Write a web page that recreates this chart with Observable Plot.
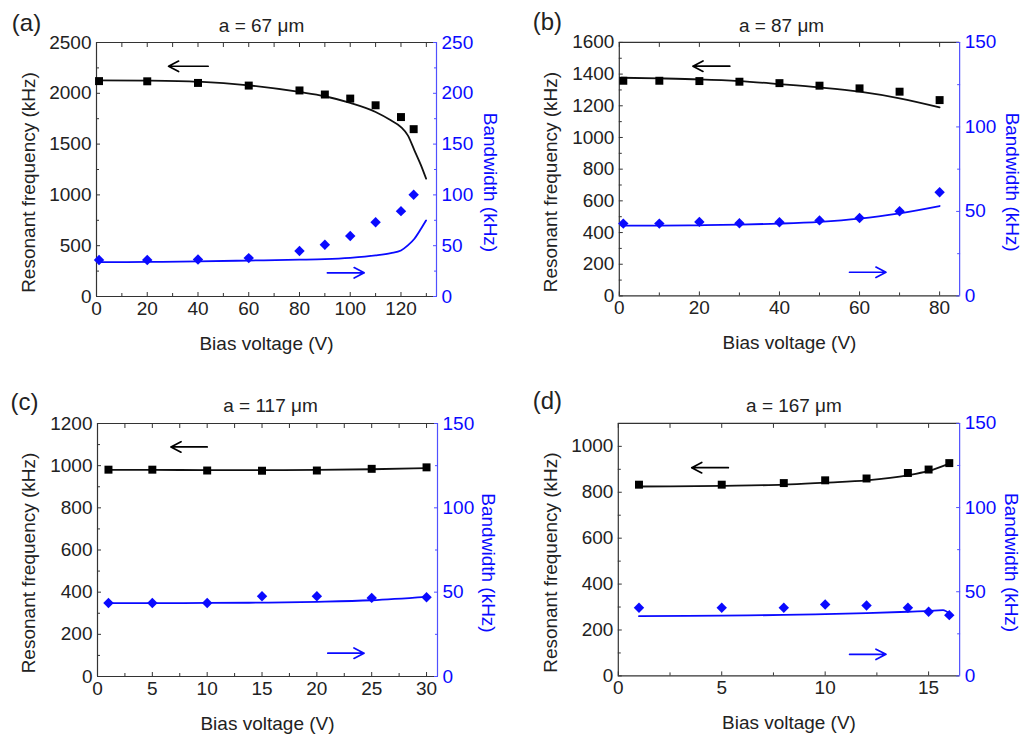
<!DOCTYPE html>
<html><head><meta charset="utf-8">
<script src="https://cdn.jsdelivr.net/npm/d3@7"></script>
<script src="https://cdn.jsdelivr.net/npm/@observablehq/plot@0.6"></script>
<style>
body{margin:0;background:#fff;}
#wrap{position:relative;width:1029px;height:740px;overflow:hidden;}
.panel{position:absolute;}
</style></head><body><div id="wrap"></div>
<script>
// ---------- Panel (a): a = 67 μm ----------
const voltA = [1, 20, 40, 60, 80, 90, 100, 110, 120, 125];
const freqA = [2120, 2118, 2102, 2076, 2028, 1988, 1948, 1882, 1766, 1647];
const bwA = [36, 36, 36.5, 37.8, 44.8, 51, 59.6, 73, 84, 100.2];
const fitVoltA = [0.5, 20, 40, 60, 80, 90, 100, 110, 116, 120, 122.7, 125.3, 127.9, 129.9];
const fitFreqA = [2128, 2125, 2114, 2078, 2013, 1971, 1905, 1816, 1734, 1668, 1586, 1439, 1291, 1160];
const fitBwA = [33.8, 34, 34.5, 35.4, 36.2, 36.8, 38.1, 40.4, 42.7, 45.3, 50.3, 56.9, 66.7, 74.9];
const arrowFreqA = [44, 28.4, 2266];   // x from, x to, y (kHz)
const arrowBwA = [91, 105.5, 23.3];

// ---------- Panel (b): a = 87 μm ----------
const voltB = [1, 10, 20, 30, 40, 50, 60, 70, 80];
const freqB = [1358, 1358, 1356, 1352, 1343, 1327, 1310, 1289, 1236];
const bwB = [42.8, 42.8, 43.8, 43.0, 43.6, 44.7, 46.1, 50.1, 61.3];
const fitVoltB = [0.5, 10, 20, 30, 40, 50, 60, 70, 80];
const fitFreqB = [1377, 1373, 1367, 1356, 1337, 1316, 1289, 1247, 1190];
const fitBwB = [41.6, 41.6, 41.8, 42.2, 42.8, 43.8, 45.7, 48.9, 53.2];
const arrowFreqB = [27.6, 18.4, 1450];
const arrowBwB = [57.5, 66.6, 14];

// ---------- Panel (c): a = 117 μm ----------
const voltC = [1, 5, 10, 15, 20, 25, 30];
const freqC = [981, 981, 977, 976, 977, 985, 992];
const bwC = [43.6, 43.6, 43.6, 47.6, 47.6, 46.6, 47.0];
const fitVoltC = [1, 5, 10, 15, 20, 25, 30];
const fitFreqC = [980, 980, 979, 979, 980, 983, 988];
const fitBwC = [43.5, 43.5, 43.6, 43.8, 44.3, 45.2, 47.2];
const arrowFreqC = [10.0, 6.7, 1089];
const arrowBwC = [21.0, 24.3, 13.8];

// ---------- Panel (d): a = 167 μm ----------
const voltD = [1, 5, 8, 10, 12, 14, 15, 16];
const freqD = [833, 833, 840, 852, 860, 884, 899, 927];
const bwD = [40.5, 40.5, 40.5, 42.4, 41.8, 40.5, 38.1, 36.1];
const fitVoltD = [1, 5, 8, 10, 12, 14, 15, 16];
const fitFreqD = [825, 828, 833, 842, 852, 874, 893, 925];
const fitVoltBwD = [1, 5, 8, 10, 12, 14, 15, 15.7, 16];
const fitBwD = [35.5, 35.8, 36.2, 36.7, 37.3, 38.1, 38.6, 39.1, 37];
const arrowFreqD = [5.32, 3.55, 907];
const arrowBwD = [11.18, 12.94, 12.8];

// ---------- Axes ----------
const panelLabels = ["(a)", "(b)", "(c)", "(d)"];
const panelTitles = ["a = 67 μm", "a = 87 μm", "a = 117 μm", "a = 167 μm"];
const xLabel = "Bias voltage (V)";
const yLabel = "Resonant frequency (kHz)";
const y2Label = "Bandwidth (kHz)";

const xDomains = [[0, 134], [0, 85], [0, 31], [0, 16.5]];
const xMajor = [[0, 20, 40, 60, 80, 100, 120], [0, 20, 40, 60, 80], [0, 5, 10, 15, 20, 25, 30], [0, 5, 10, 15]];
const xMinor = [[10, 30, 50, 70, 90, 110, 130], [10, 30, 50, 70], [2.5, 7.5, 12.5, 17.5, 22.5, 27.5], [2.5, 7.5, 12.5]];
const yDomains = [[0, 2500], [0, 1600], [0, 1200], [0, 1100]];
const yMajor = [[0, 500, 1000, 1500, 2000, 2500], [0, 200, 400, 600, 800, 1000, 1200, 1400, 1600],
  [0, 200, 400, 600, 800, 1000, 1200], [0, 200, 400, 600, 800, 1000]];
const yMinor = [[250, 750, 1250, 1750, 2250], [100, 300, 500, 700, 900, 1100, 1300, 1500],
  [100, 300, 500, 700, 900, 1100], [100, 300, 500, 700, 900]];
const y2Max = [250, 150, 150, 150];
const y2Major = [[0, 50, 100, 150, 200, 250], [0, 50, 100, 150], [0, 50, 100, 150], [0, 50, 100, 150]];
const y2Minor = [[25, 75, 125, 175, 225], [25, 75, 125], [25, 75, 125], [25, 75, 125]];

const panels = [
  {volt: voltA, freq: freqA, bw: bwA, fv: fitVoltA, ff: fitFreqA, fbv: fitVoltA, fb: fitBwA, af: arrowFreqA, ab: arrowBwA,
   pos: [0, 0], m: [42, 79, 74, 96], off: {yt: -68, y2t: 54, xt: 47, tdx: -5, tdy: -17, ldx: -70, ldy: -19}},
  {volt: voltB, freq: freqB, bw: bwB, fv: fitVoltB, ff: fitFreqB, fbv: fitVoltB, fb: fitBwB, af: arrowFreqB, ab: arrowBwB,
   pos: [515, 0], m: [42, 70, 74, 104], off: {yt: -69, y2t: 53, xt: 47, tdx: -8, tdy: -17, ldx: -72, ldy: -20}},
  {volt: voltC, freq: freqC, bw: bwC, fv: fitVoltC, ff: fitFreqC, fbv: fitVoltC, fb: fitBwC, af: arrowFreqC, ab: arrowBwC,
   pos: [0, 370], m: [53, 78, 64, 97], off: {yt: -69, y2t: 51, xt: 47, tdx: 3, tdy: -18, ldx: -73, ldy: -21}},
  {volt: voltD, freq: freqD, bw: bwD, fv: fitVoltD, ff: fitFreqD, fbv: fitVoltBwD, fb: fitBwD, af: arrowFreqD, ab: arrowBwD,
   pos: [515, 370], m: [53, 70, 64, 103], off: {yt: -68, y2t: 52, xt: 47, tdx: 5, tdy: -18, ldx: -71, ldy: -22}}
];

const BLUE = "#0a0aff";
const AXBLUE = "#5050ff";
const FRAME = "#333";
const FONT = "'Liberation Sans', Arial, Helvetica, sans-serif";
const FS = 19;

panels.forEach((p, i) => {
  const k = yDomains[i][1] / y2Max[i]; // bandwidth -> left scale
  const [xmin, xmax] = xDomains[i];
  const [ymin, ymax] = yDomains[i];
  const pts = p.volt.map((v, j) => ({v, f: p.freq[j], b: p.bw[j] * k}));
  const fitF = p.fv.map((v, j) => ({v, f: p.ff[j]}));
  const fitB = p.fbv.map((v, j) => ({v, b: p.fb[j] * k}));
  const arrows = [
    {x1: p.af[0], x2: p.af[1], y: p.af[2], c: "#000"},
    {x1: p.ab[0], x2: p.ab[1], y: p.ab[2] * k, c: BLUE}
  ];
  const chart = Plot.plot({
    width: 515, height: 370,
    marginTop: p.m[0], marginRight: p.m[1], marginBottom: p.m[2], marginLeft: p.m[3],
    style: {fontFamily: FONT, fontSize: FS + "px", background: "white", color: "#222", overflow: "visible"},
    x: {domain: xDomains[i]},
    y: {domain: yDomains[i]},
    marks: [
      // frame edges
      Plot.ruleY([ymin], {stroke: FRAME, strokeWidth: 1.2}),
      Plot.ruleY([ymax], {stroke: FRAME, strokeWidth: 1.2}),
      Plot.ruleX([xmin], {stroke: FRAME, strokeWidth: 1.2}),
      Plot.ruleX([xmax], {stroke: AXBLUE, strokeWidth: 1.2}),
      // bottom axis
      Plot.axisX({ticks: xMajor[i], tickSize: -4, tickPadding: 9, stroke: FRAME, fill: "#222", fontSize: FS, label: null, tickFormat: d => String(d)}),
      Plot.axisX({ticks: xMinor[i], tickSize: -3, tickPadding: 9, stroke: FRAME, label: null, tickFormat: () => ""}),
      // top mirror ticks
      Plot.axisX({anchor: "top", ticks: xMajor[i].concat(xMinor[i]), tickSize: -4, stroke: FRAME, label: null, tickFormat: () => ""}),
      // left axis
      Plot.axisY({ticks: yMajor[i], tickSize: -4, tickPadding: 9, stroke: FRAME, fill: "#222", fontSize: FS, label: null, tickFormat: d => String(d)}),
      Plot.axisY({ticks: yMinor[i], tickSize: -3, tickPadding: 9, stroke: FRAME, label: null, tickFormat: () => ""}),
      // right (bandwidth) axis
      Plot.axisY({anchor: "right", ticks: y2Major[i].map(v => v * k), tickSize: -4, tickPadding: 9, stroke: AXBLUE, fill: BLUE, fontSize: FS, label: null, tickFormat: d => String(Math.round(d / k))}),
      Plot.axisY({anchor: "right", ticks: y2Minor[i].map(v => v * k), tickSize: -3, tickPadding: 9, stroke: AXBLUE, label: null, tickFormat: () => ""}),
      // fits
      Plot.line(fitF, {x: "v", y: "f", stroke: "#111", strokeWidth: 1.8, curve: "monotone-x"}),
      Plot.line(fitB, {x: "v", y: "b", stroke: BLUE, strokeWidth: 1.8, curve: "monotone-x"}),
      // data
      Plot.dot(pts, {x: "v", y: "f", symbol: "square", r: 4.5, fill: "#000", stroke: "none"}),
      Plot.dot(pts, {x: "v", y: "b", symbol: "diamond2", r: 4.7, fill: BLUE, stroke: "none"}),
      // arrows
      Plot.arrow(arrows, {x1: "x1", x2: "x2", y1: "y", y2: "y", stroke: "c", strokeWidth: 1.7, headLength: 10, headAngle: 55}),
      // titles
      Plot.text([yLabel], {frameAnchor: "left", textAnchor: "middle", lineAnchor: "middle", dx: p.off.yt, dy: 13, rotate: -90, fontSize: FS, fill: "#222"}),
      Plot.text([y2Label], {frameAnchor: "right", textAnchor: "middle", lineAnchor: "middle", dx: p.off.y2t, dy: 13, rotate: 90, fontSize: FS, fill: BLUE}),
      Plot.text([xLabel], {frameAnchor: "bottom", textAnchor: "middle", lineAnchor: "middle", dy: p.off.xt, fontSize: FS, fill: "#222"}),
      Plot.text([panelTitles[i]], {frameAnchor: "top", textAnchor: "middle", lineAnchor: "middle", dx: p.off.tdx, dy: p.off.tdy, fontSize: FS, fill: "#222"}),
      Plot.text([panelLabels[i]], {frameAnchor: "top-left", textAnchor: "middle", lineAnchor: "middle", dx: p.off.ldx, dy: p.off.ldy, fontSize: 24, fill: "#222"})
    ]
  });
  const div = document.createElement("div");
  div.className = "panel";
  div.style.left = p.pos[0] + "px";
  div.style.top = p.pos[1] + "px";
  div.appendChild(chart);
  document.getElementById("wrap").appendChild(div);
});
</script></body></html>
